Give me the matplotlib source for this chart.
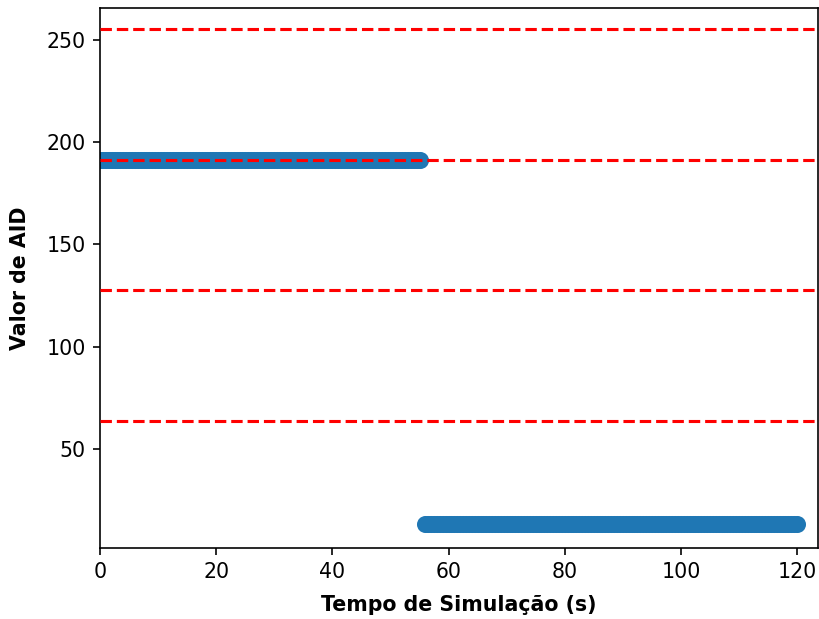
import matplotlib
matplotlib.use("Agg")
import matplotlib.pyplot as plt

# tempo de simulação (s) e valor de AID (amostras a cada 0,5 s)
tempo_alto = [i / 2 for i in range(0, 111)]
aid_alto = [191] * len(tempo_alto)
tempo_baixo = [i / 2 for i in range(112, 241)]
aid_baixo = [13] * len(tempo_baixo)

# limiares (linhas vermelhas)
limiares = [63.75, 127.5, 191.25, 255]

dpi = 148
fig = plt.figure(figsize=(819 / dpi, 619 / dpi), dpi=dpi)
ax = fig.add_axes([0.1221, 0.1147, 0.8767, 0.8724])

ax.scatter(tempo_alto + tempo_baixo, aid_alto + aid_baixo, s=53, color="#1f77b4", zorder=2)
for lim in limiares:
    ax.axhline(lim, color="red", linestyle="--", linewidth=1.5, zorder=3)

ax.set_xlim(0, 123.6)
ax.set_ylim(1.5, 265.5)
ax.set_xlabel("Tempo de Simulação (s)", fontweight="bold", labelpad=6)
ax.set_ylabel("Valor de AID", fontweight="bold", labelpad=8)

fig.savefig("out.png", dpi=dpi)
